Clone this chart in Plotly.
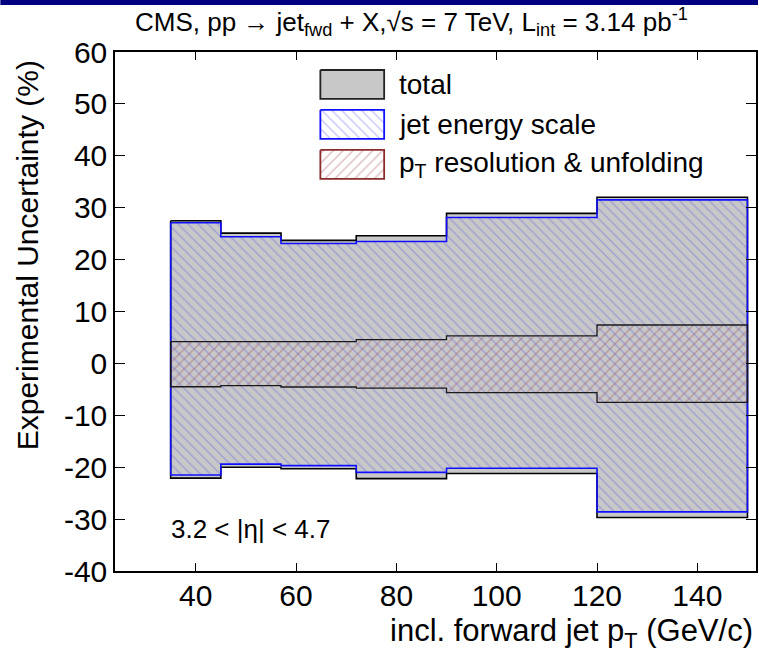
import plotly.graph_objects as go

# ---------------- data ----------------
bin_edges = [35, 45, 57, 72, 90, 120, 150]
total_up = [27.5, 25.1, 23.7, 24.6, 28.9, 32.0]
total_lo = [-22.1, -20.0, -20.3, -22.2, -21.2, -29.7]
jes_up = [27.1, 24.4, 23.1, 23.5, 28.1, 31.5]
jes_lo = [-21.5, -19.4, -19.7, -21.0, -20.2, -28.6]
res_up = [4.2, 4.2, 4.2, 4.6, 5.3, 7.4]
res_lo = [-4.5, -4.3, -4.55, -4.75, -5.65, -7.5]
x_ticks = [40, 60, 80, 100, 120, 140]
y_ticks = [-40, -30, -20, -10, 0, 10, 20, 30, 40, 50, 60]
y_ticktext = ["-40", "-30", "-20", "-10", "0", "10", "20", "30", "40", "50", "60"]

FONT = "Liberation Sans"
GRAY = "#c8c8c8"
BLUE_HATCH = "rgba(70,70,235,0.6)"
RED_HATCH = "rgba(150,60,70,0.65)"

# plot-area geometry in pixels (for paper-coordinate conversion)
L, R, T, B = 115, 758, 52, 571.5
W, H = R - L, B - T


def px(x):
    return (x - L) / W


def py(y):
    return (B - y) / H


def band(edges, up, lo):
    xs, ys = [], []
    for i in range(len(up)):
        xs += [edges[i], edges[i + 1]]
        ys += [up[i], up[i]]
    for i in reversed(range(len(lo))):
        xs += [edges[i + 1], edges[i]]
        ys += [lo[i], lo[i]]
    xs.append(xs[0])
    ys.append(ys[0])
    return xs, ys


fig = go.Figure()

tx, ty = band(bin_edges, total_up, total_lo)
fig.add_trace(go.Scatter(x=tx, y=ty, mode="lines", fill="toself", fillcolor=GRAY,
                         line=dict(color="black", width=1.6), showlegend=False,
                         hoverinfo="skip"))

jx, jy = band(bin_edges, jes_up, jes_lo)
fig.add_trace(go.Scatter(x=jx, y=jy, mode="lines", fill="toself",
                         fillcolor="rgba(0,0,0,0)",
                         fillpattern=dict(shape="\\", fgcolor=BLUE_HATCH,
                                          bgcolor="rgba(0,0,0,0)", size=7, solidity=0.22),
                         line=dict(color="#1010ff", width=1.6), showlegend=False,
                         hoverinfo="skip"))

rx, ry = band(bin_edges, res_up, res_lo)
fig.add_trace(go.Scatter(x=rx, y=ry, mode="lines", fill="toself",
                         fillcolor="rgba(0,0,0,0)",
                         fillpattern=dict(shape="/", fgcolor=RED_HATCH,
                                          bgcolor="rgba(0,0,0,0)", size=7, solidity=0.22),
                         line=dict(color="#1a1a1a", width=1.3), showlegend=False,
                         hoverinfo="skip"))

# ---------------- legend (drawn on an overlay pixel axis) ----------------
leg_items = [
    ("total", GRAY, None, None, "#222222", 70),
    ("jet energy scale", "white", "\\", BLUE_HATCH, "#1010ff", 110),
    ("p<sub>T</sub> resolution &amp; unfolding", "white", "/", RED_HATCH, "#8b2c2c", 150),
]
annots = []
for label, bg, shp, fg, lc, top in leg_items:
    bx = [321, 385, 385, 321, 321]
    by = [top, top, top + 29, top + 29, top]
    kw = {}
    if shp:
        kw["fillpattern"] = dict(shape=shp, fgcolor=fg, bgcolor=bg, size=7, solidity=0.22)
    fig.add_trace(go.Scatter(x=bx, y=by, xaxis="x2", yaxis="y2", mode="lines",
                             fill="toself", fillcolor=bg,
                             line=dict(color=lc, width=1.8), showlegend=False,
                             hoverinfo="skip", **kw))
    annots.append(dict(x=px(398), y=py(top + 14.5), xref="paper", yref="paper", text=label,
                       showarrow=False, xanchor="left", yanchor="middle",
                       font=dict(family=FONT, size=28, color="black")))

# title
annots.append(dict(x=px(412), y=py(22), xref="paper", yref="paper",
                   text="CMS, pp \u2192 jet<sub>fwd</sub> + X,\u221as = 7 TeV, L<sub>int</sub> = 3.14 pb<sup>-1</sup>",
                   showarrow=False, xanchor="center", yanchor="middle",
                   font=dict(family=FONT, size=26, color="black")))
# x-axis title
annots.append(dict(x=px(757), y=py(634), xref="paper", yref="paper",
                   text="incl. forward jet p<sub>T</sub> (GeV/c)",
                   showarrow=False, xanchor="right", yanchor="middle",
                   font=dict(family=FONT, size=31, color="black")))
# y-axis title
annots.append(dict(x=px(28), y=py(58), xref="paper", yref="paper",
                   text="Experimental Uncertainty (%)", textangle=-90,
                   showarrow=False, xanchor="center", yanchor="top",
                   font=dict(family=FONT, size=30, color="black")))
# eta label
annots.append(dict(x=34.6, y=-32.0, xref="x", yref="y",
                   text="3.2 &lt; |\u03b7| &lt; 4.7",
                   showarrow=False, xanchor="left", yanchor="middle",
                   font=dict(family=FONT, size=26, color="black")))

fig.update_layout(
    width=759, height=652,
    margin=dict(l=L, r=759 - R, t=T, b=652 - B),
    paper_bgcolor="white", plot_bgcolor="white",
    font=dict(family=FONT, color="black"),
    showlegend=False,
    xaxis=dict(range=[23.9, 151.7], tickvals=x_ticks, ticks="inside", ticklen=8,
               tickwidth=1.3, tickcolor="black", showline=True, linecolor="black",
               linewidth=1.5, mirror="ticks", showgrid=False, zeroline=False,
               ticklabelstandoff=-3,
               tickfont=dict(family=FONT, size=30)),
    yaxis=dict(range=[-40, 60], tickvals=y_ticks, ticktext=y_ticktext, ticks="inside",
               ticklen=10, tickwidth=1.3, tickcolor="black", showline=True,
               linecolor="black", linewidth=1.5, mirror="ticks", showgrid=False,
               zeroline=False, tickfont=dict(family=FONT, size=30)),
    xaxis2=dict(range=[L, R], overlaying="x", visible=False, fixedrange=True),
    yaxis2=dict(range=[B, T], overlaying="y", visible=False, fixedrange=True),
    annotations=annots,
    shapes=[dict(type="rect", xref="paper", yref="paper",
                 x0=px(0), x1=px(760), y0=py(5), y1=py(0),
                 fillcolor="#000080", line=dict(width=0), layer="above")],
)

fig.write_html("out.html")
